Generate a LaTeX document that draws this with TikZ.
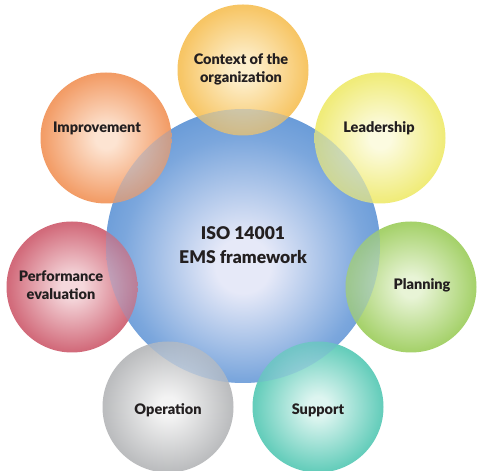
\documentclass[tikz,border=0pt]{standalone}
\usepackage{fontspec}
\setmainfont{Lato}[BoldFont={Lato Black}]
\usetikzlibrary{calc}
\definecolor{bluein}{HTML}{E6E9F8}\definecolor{blueout}{HTML}{3A7ECC}
\definecolor{ctxin}{HTML}{FDEFCC}\definecolor{ctxout}{HTML}{F4B030}
\definecolor{leadin}{HTML}{FCFBE0}\definecolor{leadout}{HTML}{EAE445}
\definecolor{planin}{HTML}{E8F4D6}\definecolor{planout}{HTML}{84C035}
\definecolor{suppin}{HTML}{DDF5F0}\definecolor{suppout}{HTML}{28B9A0}
\definecolor{operin}{HTML}{F3F3F3}\definecolor{operout}{HTML}{9FA1A4}
\definecolor{perfin}{HTML}{F5D8DC}\definecolor{perfout}{HTML}{C03349}
\definecolor{impin}{HTML}{FDE4D2}\definecolor{impout}{HTML}{ED7830}
\definecolor{txt}{HTML}{231F20}
\newcommand{\mkball}[3]{\pgfdeclareradialshading{#1}{\pgfpoint{0bp}{0bp}}{color(0bp)=(#2); color(4bp)=(#2); color(24bp)=(#3!65!#2); color(42bp)=(#3); color(50bp)=(#3!92!black)}}
\pgfdeclareradialshading{ballblue}{\pgfpoint{0bp}{-4bp}}{color(0bp)=(bluein); color(5bp)=(bluein); color(22bp)=(blueout!62!bluein); color(40bp)=(blueout); color(50bp)=(blueout!92!black)}
\mkball{ballctx}{ctxin}{ctxout}
\mkball{balllead}{leadin}{leadout}
\mkball{ballplan}{planin}{planout}
\mkball{ballsupp}{suppin}{suppout}
\mkball{balloper}{operin}{operout}
\mkball{ballperf}{perfin}{perfout}
\mkball{ballimp}{impin}{impout}
\begin{document}
\begin{tikzpicture}[x=1pt,y=1pt,
  sat/.style={circle,minimum size=131pt,inner sep=0pt},
  lab/.style={text=txt,align=center,font=\fontsize{14.5}{18}\selectfont\bfseries},
  mainlab/.style={text=txt,align=center,font=\fontsize{17.5}{24}\selectfont\bfseries}]
\useasboundingbox (0,0) rectangle (480,471);
\fill[white] (0,0) rectangle (480,471);
\node[circle,minimum size=274pt,inner sep=0pt,shading=ballblue] (ctr) at (243,225) {};
\node[sat,shading=ballctx]  (s1) at (243,401) {};
\node[sat,shading=balllead] (s2) at (380,333) {};
\node[sat,shading=ballplan] (s3) at (411,184) {};
\node[sat,shading=ballsupp] (s4) at (318,64) {};
\node[sat,shading=balloper] (s5) at (168,64) {};
\node[sat,shading=ballperf] (s6) at (72,184) {};
\node[sat,shading=ballimp]  (s7) at (106,333) {};
\path[shading=ballblue,fill opacity=0.3] (ctr.center) circle (137);
\node[mainlab] (tc) at ($(ctr)+(0,1)$) {ISO 14001\\EMS framework};
\node[lab] (t1) at ($(s1)+(-2,1)$) {Context of the\\organization};
\node[lab] (t2) at ($(s2)+(-1,10)$) {Leadership};
\node[lab] (t3) at ($(s3)+(11,2)$) {Planning};
\node[lab] (t4) at ($(s4)+(0,-3)$) {Support};
\node[lab] (t5) at ($(s5)+(0,-3)$) {Operation};
\node[lab] (t6) at ($(s6)+(-11,2)$) {Performance\\evaluation};
\node[lab] (t7) at ($(s7)+(-9,10)$) {Improvement};
\end{tikzpicture}
\end{document}
